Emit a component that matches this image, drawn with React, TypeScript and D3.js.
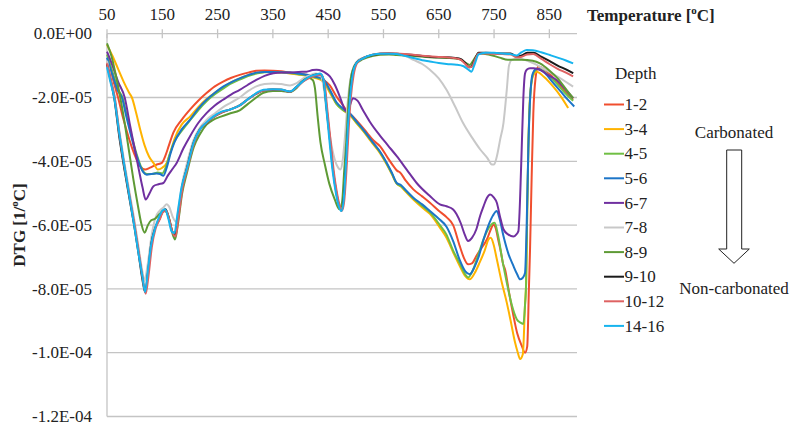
import React from "react";
import * as d3 from "d3";

// DTG values are stored in units of 1E-05 1/°C
const UNIT = 1e-5;

const xTicks = [50, 150, 250, 350, 450, 550, 650, 750, 850];
const yTicks = [0, -2, -4, -6, -8, -10, -12];

const depthLabels = ["1-2", "3-4", "4-5", "5-6", "6-7", "7-8", "8-9", "9-10", "10-12", "14-16"];
const depthColors = ["#F04E2E", "#FFB300", "#70BF44", "#1C75C8", "#7030A0", "#C8C8C8", "#5E9A35", "#1A1A1A", "#DE6262", "#17B4EE"];

const d1_2: [number, number][] = [[50,-0.9],[60,-1.4],[70,-2.0],[80,-2.7],[90,-3.3],[100,-3.8],[110,-4.15],[119,-4.26],[128,-4.2],[140,-4.1],[149,-4.05],[155,-3.85],[162,-3.5],[170,-3.1],[185,-2.7],[200,-2.38],[215,-2.1],[230,-1.86],[245,-1.65],[260,-1.5],[275,-1.38],[290,-1.29],[305,-1.22],[320,-1.16],[335,-1.15],[350,-1.16],[365,-1.18],[381,-1.22],[395,-1.24],[411,-1.29],[425,-1.34],[441,-1.45],[453,-1.62],[465,-1.97],[475,-2.2],[483,-2.4],[495,-2.6],[508,-2.85],[520,-3.1],[532,-3.35],[544,-3.53],[558,-3.9],[570,-4.2],[575,-4.3],[580,-4.35],[590,-4.6],[604,-4.88],[620,-5.1],[634,-5.3],[650,-5.55],[664,-5.75],[676,-6.0],[688,-6.66],[696,-7.05],[703,-7.23],[710,-7.2],[718,-6.97],[728,-6.7],[737,-6.45],[745,-6.1],[749,-5.98],[753,-6.1],[758,-6.5],[763,-6.9],[766,-7.2],[770,-7.4],[777,-8.1],[785,-8.84],[792,-9.4],[800,-9.78],[806,-10.0],[810,-9.8],[813,-8.0],[815,-6.8],[818,-4.5],[821,-2.5],[825,-1.4],[830,-1.03],[840,-1.1],[850,-1.25],[863,-1.5],[878,-1.8],[893,-2.07]];

const d3_4: [number, number][] = [[50,-0.35],[60,-0.7],[70,-1.1],[80,-1.5],[90,-1.85],[95,-2.0],[103,-2.5],[110,-3.0],[118,-3.5],[126,-3.85],[134,-4.05],[142,-4.26],[150,-4.2],[158,-4.05],[165,-3.7],[172,-3.3],[185,-2.85],[200,-2.6],[215,-2.3],[230,-2.05],[245,-1.85],[260,-1.68],[275,-1.52],[290,-1.4],[305,-1.3],[320,-1.24],[335,-1.2],[350,-1.2],[365,-1.22],[381,-1.25],[395,-1.28],[411,-1.32],[425,-1.38],[441,-1.5],[453,-1.85],[465,-2.2],[477,-2.4],[489,-2.55],[501,-2.8],[513,-3.05],[522,-3.25],[532,-3.48],[544,-3.75],[556,-4.1],[565,-4.4],[574,-4.7],[582,-4.8],[590,-4.95],[604,-5.2],[620,-5.45],[634,-5.65],[652,-6.08],[664,-6.4],[676,-6.85],[688,-7.28],[698,-7.6],[706,-7.7],[715,-7.5],[724,-7.17],[733,-6.8],[740,-6.45],[744,-6.4],[749,-6.6],[755,-7.07],[764,-7.8],[773,-8.43],[780,-9.0],[788,-9.68],[793,-10.0],[797,-10.2],[802,-10.05],[806,-8.5],[808,-7.8],[810,-5.5],[812,-3.6],[815,-2.0],[820,-1.35],[827,-1.19],[840,-1.35],[857,-1.66],[870,-1.95],[884,-2.33]];

const d4_5: [number, number][] = [[50,-0.65],[60,-1.2],[70,-1.75],[78,-2.0],[86,-2.6],[96,-3.3],[104,-3.8],[111,-4.15],[117,-4.35],[123,-4.4],[132,-4.4],[142,-4.35],[150,-4.38],[156,-4.2],[163,-3.8],[170,-3.45],[185,-3.05],[200,-2.72],[215,-2.4],[230,-2.12],[245,-1.9],[260,-1.72],[275,-1.56],[290,-1.44],[305,-1.33],[320,-1.25],[335,-1.21],[350,-1.2],[365,-1.21],[381,-1.23],[396,-1.27],[411,-1.3],[425,-1.36],[441,-1.45],[453,-1.8],[465,-2.2],[477,-2.4],[489,-2.52],[501,-2.78],[513,-3.02],[522,-3.22],[532,-3.45],[544,-3.72],[556,-4.08],[565,-4.38],[574,-4.7],[582,-4.78],[590,-4.92],[604,-5.16],[620,-5.4],[634,-5.6],[652,-6.0],[664,-6.3],[676,-6.8],[688,-7.2],[698,-7.55],[703,-7.64],[712,-7.4],[722,-6.9],[732,-6.4],[742,-6.05],[751,-5.93],[757,-6.3],[765,-7.1],[773,-7.8],[782,-8.5],[791,-8.95],[797,-9.05],[803,-9.1],[806,-8.5],[808,-7.8],[810,-5.5],[812,-3.6],[816,-1.8],[822,-1.2],[830,-1.1],[845,-1.25],[860,-1.5],[878,-1.85],[893,-2.1]];

const d5_6: [number, number][] = [[50,-0.75],[60,-1.3],[70,-1.8],[77,-2.0],[85,-2.6],[95,-3.3],[103,-3.8],[110,-4.15],[116,-4.35],[122,-4.42],[130,-4.4],[140,-4.38],[146,-4.4],[152,-4.45],[158,-4.2],[165,-3.75],[172,-3.4],[185,-3.0],[200,-2.7],[215,-2.35],[230,-2.07],[245,-1.85],[260,-1.66],[275,-1.52],[290,-1.4],[305,-1.3],[320,-1.22],[335,-1.2],[350,-1.2],[365,-1.21],[381,-1.22],[396,-1.25],[411,-1.29],[425,-1.34],[441,-1.42],[453,-1.76],[465,-2.15],[477,-2.35],[489,-2.49],[501,-2.75],[513,-3.0],[522,-3.2],[532,-3.43],[544,-3.7],[556,-4.05],[565,-4.35],[574,-4.68],[582,-4.75],[590,-4.9],[604,-5.14],[620,-5.35],[634,-5.56],[650,-5.8],[664,-6.05],[676,-6.5],[688,-7.1],[698,-7.45],[706,-7.54],[715,-7.3],[722,-7.0],[731,-6.45],[740,-6.0],[748,-5.7],[755,-5.56],[760,-5.8],[767,-6.34],[776,-6.9],[785,-7.28],[792,-7.55],[797,-7.7],[802,-7.65],[806,-7.5],[809,-6.0],[812,-3.6],[816,-1.8],[820,-1.25],[827,-1.1],[840,-1.2],[855,-1.5],[870,-1.8],[885,-2.1],[895,-2.28]];

const d6_7: [number, number][] = [[50,-0.56],[60,-1.0],[70,-1.5],[82,-2.0],[92,-2.9],[100,-3.6],[108,-4.3],[114,-4.8],[120,-5.2],[127,-5.0],[134,-4.78],[143,-4.72],[152,-4.68],[160,-4.45],[168,-4.25],[176,-4.05],[188,-3.6],[200,-3.22],[215,-2.8],[230,-2.49],[245,-2.25],[260,-2.07],[275,-1.9],[290,-1.76],[305,-1.6],[320,-1.45],[335,-1.32],[351,-1.24],[366,-1.22],[381,-1.22],[396,-1.2],[411,-1.19],[422,-1.14],[429,-1.13],[438,-1.16],[447,-1.25],[453,-1.34],[462,-1.6],[471,-1.97],[478,-2.3],[483,-2.44],[489,-2.25],[495,-2.02],[503,-2.1],[513,-2.4],[525,-2.75],[544,-3.2],[558,-3.5],[574,-3.84],[592,-4.26],[610,-4.68],[634,-5.09],[652,-5.35],[664,-5.41],[676,-5.51],[682,-5.65],[690,-5.95],[697,-6.3],[703,-6.5],[710,-6.4],[718,-6.13],[725,-5.7],[731,-5.41],[737,-5.15],[743,-5.04],[749,-5.12],[755,-5.3],[761,-5.75],[767,-6.13],[776,-6.3],[785,-6.36],[790,-6.3],[794,-6.19],[797,-5.2],[798,-4.68],[800,-3.6],[803,-2.0],[806,-1.25],[809,-1.13],[815,-1.08],[822,-1.08],[833,-1.13],[848,-1.3],[863,-1.45],[878,-1.72],[893,-2.02]];

const d7_8: [number, number][] = [[50,-0.85],[57,-1.4],[63,-1.9],[72,-3.0],[82,-4.1],[91,-5.0],[100,-5.9],[108,-6.8],[114,-7.45],[118,-7.75],[123,-7.3],[130,-6.4],[137,-5.8],[145,-5.55],[152,-5.45],[158,-5.35],[163,-5.45],[169,-5.75],[175,-5.9],[180,-5.4],[187,-4.6],[194,-4.1],[206,-3.35],[218,-2.95],[230,-2.7],[245,-2.5],[260,-2.3],[275,-2.15],[290,-2.0],[305,-1.8],[320,-1.65],[335,-1.58],[350,-1.56],[365,-1.58],[381,-1.62],[393,-1.55],[405,-1.4],[417,-1.3],[428,-1.25],[436,-1.3],[442,-1.7],[448,-2.6],[455,-3.4],[462,-3.95],[468,-4.2],[472,-4.26],[476,-4.0],[480,-3.3],[485,-2.2],[490,-1.45],[497,-1.0],[505,-0.82],[513,-0.76],[530,-0.66],[544,-0.63],[560,-0.62],[574,-0.64],[590,-0.7],[604,-0.82],[620,-0.95],[634,-1.13],[650,-1.4],[664,-1.76],[680,-2.3],[694,-2.8],[710,-3.25],[725,-3.63],[738,-3.9],[746,-4.1],[750,-4.1],[755,-3.85],[761,-3.32],[767,-2.8],[773,-1.76],[777,-1.0],[782,-0.82],[795,-0.78],[810,-0.85],[833,-1.03],[850,-1.2],[870,-1.4],[893,-1.66]];

const d8_9: [number, number][] = [[50,-0.3],[58,-0.7],[66,-1.3],[74,-2.0],[82,-2.8],[90,-3.7],[98,-4.6],[106,-5.4],[112,-5.95],[118,-6.24],[124,-6.0],[130,-5.85],[137,-5.8],[145,-5.65],[152,-5.55],[158,-5.6],[164,-5.9],[169,-6.3],[173,-6.45],[178,-6.0],[186,-5.0],[194,-4.4],[207,-3.55],[218,-3.15],[230,-2.85],[242,-2.7],[256,-2.6],[272,-2.5],[290,-2.4],[305,-2.2],[320,-2.0],[333,-1.85],[350,-1.8],[365,-1.8],[381,-1.83],[393,-1.7],[403,-1.5],[414,-1.38],[422,-1.45],[426,-1.7],[431,-2.6],[436,-3.4],[444,-4.1],[452,-4.7],[462,-5.2],[470,-5.5],[475,-5.3],[479,-4.3],[483,-3.3],[487,-2.1],[492,-1.3],[500,-0.95],[513,-0.8],[530,-0.7],[544,-0.66],[560,-0.65],[574,-0.67],[604,-0.7],[634,-0.74],[664,-0.76],[688,-0.8],[700,-0.93],[706,-0.98],[712,-0.85],[722,-0.62],[740,-0.65],[760,-0.75],[775,-0.82],[800,-0.82],[820,-0.85],[833,-0.93],[850,-1.15],[865,-1.4],[881,-1.76],[893,-2.02]];

const d9_10: [number, number][] = [[50,-0.95],[57,-1.5],[63,-2.0],[72,-3.2],[82,-4.3],[91,-5.2],[100,-6.1],[108,-7.0],[114,-7.7],[119,-8.1],[124,-7.5],[130,-6.6],[137,-6.1],[145,-5.8],[150,-5.6],[156,-5.5],[162,-5.8],[168,-6.2],[173,-6.3],[178,-5.8],[186,-4.8],[194,-4.25],[207,-3.4],[218,-3.0],[230,-2.8],[242,-2.62],[256,-2.48],[272,-2.38],[290,-2.25],[305,-2.05],[320,-1.88],[333,-1.78],[350,-1.75],[365,-1.76],[381,-1.82],[393,-1.66],[405,-1.48],[417,-1.36],[428,-1.28],[437,-1.28],[442,-1.5],[447,-2.3],[453,-3.3],[459,-4.3],[465,-5.0],[470,-5.4],[474,-5.55],[478,-5.2],[482,-4.2],[486,-2.9],[490,-1.9],[495,-1.2],[502,-0.9],[515,-0.75],[530,-0.67],[544,-0.63],[560,-0.62],[574,-0.63],[590,-0.65],[604,-0.67],[620,-0.7],[634,-0.72],[650,-0.74],[664,-0.74],[680,-0.76],[690,-0.8],[698,-0.92],[705,-1.05],[710,-1.01],[716,-0.78],[722,-0.6],[735,-0.6],[750,-0.61],[765,-0.62],[780,-0.62],[791,-0.72],[800,-0.68],[810,-0.6],[821,-0.6],[835,-0.72],[850,-0.85],[865,-1.0],[880,-1.12],[893,-1.24]];

const d10_12: [number, number][] = [[50,-0.93],[57,-1.45],[64,-2.0],[73,-3.2],[82,-4.2],[91,-5.1],[100,-6.0],[108,-6.9],[114,-7.6],[120,-8.15],[125,-7.6],[131,-6.7],[138,-6.1],[146,-5.8],[151,-5.6],[157,-5.55],[163,-5.85],[169,-6.25],[174,-6.35],[179,-5.8],[187,-4.8],[195,-4.25],[207,-3.45],[218,-3.0],[230,-2.8],[242,-2.62],[256,-2.48],[272,-2.38],[290,-2.25],[305,-2.05],[320,-1.88],[333,-1.78],[350,-1.75],[365,-1.76],[381,-1.82],[393,-1.68],[405,-1.5],[417,-1.38],[428,-1.3],[437,-1.3],[443,-1.5],[448,-2.3],[454,-3.3],[460,-4.3],[466,-5.0],[471,-5.4],[475,-5.55],[479,-5.25],[483,-4.3],[487,-3.0],[491,-2.0],[496,-1.3],[503,-0.9],[515,-0.75],[530,-0.66],[544,-0.62],[560,-0.61],[574,-0.62],[590,-0.64],[604,-0.66],[620,-0.69],[634,-0.71],[650,-0.73],[664,-0.74],[680,-0.77],[690,-0.82],[698,-0.95],[705,-1.05],[710,-1.03],[716,-0.8],[722,-0.62],[735,-0.62],[750,-0.63],[765,-0.64],[780,-0.65],[791,-0.74],[800,-0.72],[810,-0.65],[821,-0.64],[835,-0.78],[850,-0.95],[865,-1.1],[880,-1.22],[893,-1.34]];

const d14_16: [number, number][] = [[50,-1.05],[56,-1.5],[63,-2.0],[72,-3.1],[82,-4.2],[91,-5.15],[100,-6.1],[108,-7.0],[114,-7.6],[119,-8.1],[124,-7.4],[130,-6.6],[137,-6.1],[144,-5.75],[150,-5.55],[155,-5.5],[161,-5.8],[167,-6.2],[172,-6.25],[177,-5.7],[185,-4.8],[194,-4.26],[207,-3.4],[218,-3.0],[230,-2.78],[242,-2.6],[256,-2.45],[272,-2.38],[290,-2.25],[305,-2.05],[320,-1.86],[333,-1.76],[350,-1.74],[365,-1.75],[381,-1.81],[393,-1.66],[405,-1.48],[417,-1.34],[428,-1.28],[435,-1.25],[441,-1.4],[446,-2.2],[452,-3.3],[458,-4.3],[464,-5.0],[469,-5.4],[474,-5.56],[478,-5.2],[482,-4.1],[486,-2.8],[490,-1.9],[495,-1.2],[501,-0.92],[513,-0.77],[530,-0.66],[544,-0.63],[560,-0.63],[574,-0.64],[590,-0.7],[604,-0.76],[620,-0.83],[634,-0.87],[650,-0.92],[664,-0.95],[682,-0.97],[695,-1.02],[703,-1.12],[709,-1.19],[715,-0.95],[722,-0.65],[735,-0.6],[750,-0.6],[765,-0.62],[780,-0.64],[791,-0.68],[800,-0.58],[809,-0.51],[820,-0.52],[835,-0.58],[851,-0.67],[865,-0.75],[880,-0.84],[893,-0.93]];

const seriesData = [d1_2, d3_4, d4_5, d5_6, d6_7, d7_8, d8_9, d9_10, d10_12, d14_16];

const FONT = "Liberation Serif, Times New Roman, DejaVu Serif, serif";

function fmtExp(v: number): string {
  if (v === 0) return "0.0E+00";
  const s = v.toExponential(1);
  const [m, e] = s.split("e");
  const sign = e[0] === "-" ? "-" : "+";
  const digits = e.replace(/[+-]/, "").padStart(2, "0");
  return `${m}E${sign}${digits}`;
}

const txt: React.CSSProperties = { fontFamily: FONT };

export default function App() {
  const x = d3.scaleLinear().domain([50, 900]).range([107, 577]);
  const y = d3.scaleLinear().domain([-12 * UNIT, 0]).range([416.5, 33.7]);
  const line = d3
    .line<[number, number]>()
    .x((d) => x(d[0]))
    .y((d) => y(d[1] * UNIT))
    .curve(d3.curveMonotoneX);

  const gridColor = "#C4C4C4";
  const legendX = 604;
  const legendY0 = 104.5;
  const legendStep = 24.6;

  return (
    <svg
      width={790}
      height={428}
      style={{ position: "absolute", left: 0, top: 0, background: "#fff", fontFamily: FONT }}
    >
      <rect x={0} y={0} width={790} height={428} fill="#fff" />
      {yTicks.slice(1).map((t) => (
        <line key={"g" + t} x1={x(50)} x2={x(900)} y1={y(t * UNIT)} y2={y(t * UNIT)} stroke={gridColor} strokeWidth={1.3} />
      ))}
      <line x1={x(50)} x2={x(50)} y1={y(0)} y2={y(-12 * UNIT)} stroke={gridColor} strokeWidth={1.3} />
      {seriesData.map((d, i) => (
        <path key={depthLabels[i]} d={line(d) || ""} fill="none" stroke={depthColors[i]} strokeWidth={2} strokeLinejoin="round" />
      ))}
      <line x1={x(50)} x2={x(900)} y1={y(0)} y2={y(0)} stroke={gridColor} strokeWidth={1.3} />
      {xTicks.map((t) => (
        <g key={"xt" + t}>
          <line x1={x(t)} x2={x(t)} y1={y(0) - 4.5} y2={y(0) + 4.5} stroke={gridColor} strokeWidth={1.3} />
          <text x={x(t)} y={19.5} textAnchor="middle" fontSize={17} fill="#222" style={txt}>
            {t}
          </text>
        </g>
      ))}
      {yTicks.map((t) => (
        <text key={"yt" + t} x={92} y={y(t * UNIT)} dy="0.34em" textAnchor="end" fontSize={17} fill="#222" style={txt}>
          {fmtExp(t * UNIT)}
        </text>
      ))}
      <text x={587} y={20.5} fontSize={17} fontWeight="bold" fill="#222" style={txt}>
        Temperature [<tspan fontSize={11} dy={-7}>o</tspan>
        <tspan dy={7}>C]</tspan>
      </text>
      <text transform="translate(25,225) rotate(-90)" textAnchor="middle" fontSize={17} fontWeight="bold" fill="#222" style={txt}>
        DTG [1/<tspan fontSize={11} dy={-7}>o</tspan>
        <tspan dy={7}>C]</tspan>
      </text>
      <text x={615} y={78.5} fontSize={17} fill="#222" style={txt}>
        Depth
      </text>
      {depthLabels.map((lab, i) => {
        const ly = legendY0 + i * legendStep;
        return (
          <g key={"lg" + lab}>
            <line x1={legendX} x2={legendX + 20} y1={ly} y2={ly} stroke={depthColors[i]} strokeWidth={2} />
            <text x={legendX + 20.5} y={ly} dy="0.34em" fontSize={17} fill="#222" style={txt}>
              {lab}
            </text>
          </g>
        );
      })}
      <text x={734} y={137.5} textAnchor="middle" fontSize={17} fill="#222" style={txt}>
        Carbonated
      </text>
      <polygon
        points="726.7,150 741.7,150 741.7,249 749.3,249 734,263.3 718.7,249 726.7,249"
        fill="#fff"
        stroke="#222"
        strokeWidth={1}
      />
      <text x={734} y={294} textAnchor="middle" fontSize={17} fill="#222" style={txt}>
        Non-carbonated
      </text>
    </svg>
  );
}
